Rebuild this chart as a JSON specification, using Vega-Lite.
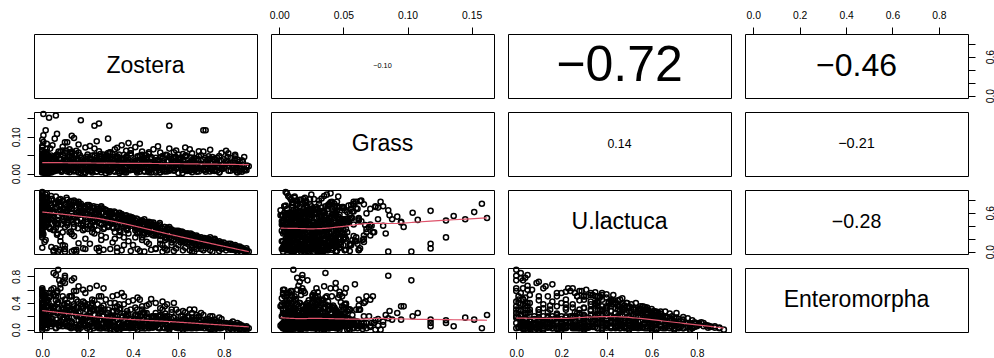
{
"$schema":"https://vega.github.io/schema/vega-lite/v6.json",
"background":"white",
"autosize":{"type":"pad"},
"padding":{"left":10,"top":9,"right":0,"bottom":0},
"config":{"view":{"stroke":"black","strokeWidth":1},"font":"Liberation Sans","axis":{"domain":false,"grid":false,"ticks":true,"tickColor":"black","tickWidth":1,"tickSize":7,"labelColor":"black","labelFont":"Liberation Sans","labelFontSize":10.3,"labelFlush":false,"labelOverlap":false}},
"datasets":{"obs":[
{"z":0,"g":0.012,"u":0.85,"e":0.06},{"z":0,"g":0.034,"u":0.62,"e":0.27},{"z":0.01,"g":0.021,"u":0.71,"e":0.18},{"z":0,"g":0.048,"u":0.44,"e":0.41},{"z":0.02,"g":0.006,"u":0.9,"e":0.02},{"z":0,"g":0.027,"u":0.33,"e":0.55},{"z":0.01,"g":0.055,"u":0.58,"e":0.3},{"z":0,"g":0.003,"u":0.4,"e":0.53},{"z":0.02,"g":0.041,"u":0.77,"e":0.1},{"z":0.005,"g":0.162,"u":0.52,"e":0.22},
{"z":0,"g":0.018,"u":0.25,"e":0.62},{"z":0.01,"g":0.009,"u":0.38,"e":0.52},{"z":0,"g":0.038,"u":0.66,"e":0.2},{"z":0.02,"g":0.015,"u":0.55,"e":0.35},{"z":0,"g":0.062,"u":0.48,"e":0.36},{"z":0.015,"g":0.024,"u":0.81,"e":0.08},{"z":0,"g":0.005,"u":0.92,"e":0},{"z":0.025,"g":0.044,"u":0.6,"e":0.25},{"z":0,"g":0.071,"u":0.42,"e":0.45},{"z":0.01,"g":0.031,"u":0.74,"e":0.15},
{"z":0,"g":0.019,"u":0.29,"e":0.58},{"z":0.02,"g":0.052,"u":0.5,"e":0.33},{"z":0,"g":0.01,"u":0.68,"e":0.24},{"z":0.005,"g":0.086,"u":0.56,"e":0.28},{"z":0,"g":0.026,"u":0.36,"e":0.5},{"z":0.03,"g":0.013,"u":0.79,"e":0.11},{"z":0,"g":0.045,"u":0.63,"e":0.22},{"z":0.01,"g":0.002,"u":0.47,"e":0.47},{"z":0,"g":0.035,"u":0.86,"e":0.04},{"z":0.02,"g":0.067,"u":0.41,"e":0.42},
{"z":0,"g":0.022,"u":0.55,"e":0.3},{"z":0.015,"g":0.008,"u":0.18,"e":0.55},{"z":0,"g":0.039,"u":0.72,"e":0.16},{"z":0.005,"g":0.104,"u":0.6,"e":0.2},{"z":0,"g":0.016,"u":0.06,"e":0.4},{"z":0.025,"g":0.05,"u":0.67,"e":0.19},{"z":0,"g":0.029,"u":0.51,"e":0.38},{"z":0.01,"g":0.058,"u":0.77,"e":0.07},{"z":0,"g":0.004,"u":0.31,"e":0.6},{"z":0.02,"g":0.033,"u":0.45,"e":0.44},
{"z":0,"g":0.075,"u":0.69,"e":0.14},{"z":0.005,"g":0.02,"u":0.83,"e":0.1},{"z":0,"g":0.047,"u":0.22,"e":0.57},{"z":0.015,"g":0.011,"u":0.64,"e":0.27},{"z":0,"g":0.092,"u":0.54,"e":0.25},{"z":0.03,"g":0.028,"u":0.37,"e":0.48},{"z":0,"g":0.014,"u":0.74,"e":0.19},{"z":0.01,"g":0.043,"u":0.58,"e":0.33},{"z":0,"g":0.007,"u":0.49,"e":0.4},{"z":0.02,"g":0.081,"u":0.7,"e":0.12},
{"z":0,"g":0.025,"u":0.88,"e":0.05},{"z":0.005,"g":0.037,"u":0.27,"e":0.5},{"z":0,"g":0.053,"u":0.61,"e":0.28},{"z":0.01,"g":0.017,"u":0.43,"e":0.52},{"z":0,"g":0.064,"u":0.79,"e":0.09},{"z":0.025,"g":0.001,"u":0.56,"e":0.35},{"z":0,"g":0.03,"u":0.35,"e":0.56},{"z":0.015,"g":0.118,"u":0.63,"e":0.15},{"z":0,"g":0.04,"u":0.9,"e":0.03},{"z":0.01,"g":0.023,"u":0.15,"e":0.3},
{"z":0.03,"g":0.152,"u":0.61,"e":0.15},{"z":0.04,"g":0.021,"u":0.72,"e":0.12},{"z":0.05,"g":0.036,"u":0.02,"e":0.85},{"z":0.06,"g":0.158,"u":0.74,"e":0.02},{"z":0.07,"g":0.011,"u":0,"e":0.9},{"z":0.04,"g":0.049,"u":0.5,"e":0.35},{"z":0.08,"g":0.027,"u":0.64,"e":0.2},{"z":0.05,"g":0.006,"u":0.33,"e":0.52},{"z":0.09,"g":0.063,"u":0.78,"e":0.05},{"z":0.06,"g":0.018,"u":0.05,"e":0.82},
{"z":0.035,"g":0.042,"u":0.57,"e":0.3},{"z":0.07,"g":0.03,"u":0.42,"e":0.41},{"z":0.1,"g":0.014,"u":0.04,"e":0.78},{"z":0.045,"g":0.077,"u":0.68,"e":0.16},{"z":0.08,"g":0.009,"u":0.81,"e":0.07},{"z":0.065,"g":0.051,"u":0.26,"e":0.55},{"z":0.095,"g":0.024,"u":0.53,"e":0.3},{"z":0.04,"g":0.003,"u":0.07,"e":0.6},{"z":0.075,"g":0.038,"u":0.7,"e":0.11},{"z":0.055,"g":0.095,"u":0.46,"e":0.35},
{"z":0.09,"g":0.016,"u":0.1,"e":0.72},{"z":0.06,"g":0.046,"u":0.85,"e":0.03},{"z":0.1,"g":0.033,"u":0.38,"e":0.45},{"z":0.045,"g":0.012,"u":0.6,"e":0.26},{"z":0.08,"g":0.059,"u":0.16,"e":0.68},{"z":0.07,"g":0.02,"u":0.76,"e":0.1},{"z":0.035,"g":0.068,"u":0.35,"e":0.5},{"z":0.085,"g":0.005,"u":0.58,"e":0.3},{"z":0.05,"g":0.044,"u":0,"e":0.62},{"z":0.095,"g":0.028,"u":0.66,"e":0.18},
{"z":0.065,"g":0.108,"u":0.49,"e":0.25},{"z":0.04,"g":0.019,"u":0.81,"e":0.1},{"z":0.08,"g":0.04,"u":0.23,"e":0.62},{"z":0.06,"g":0.008,"u":0.43,"e":0.44},{"z":0.1,"g":0.056,"u":0.72,"e":0.09},{"z":0.075,"g":0.022,"u":0.03,"e":0.74},{"z":0.05,"g":0.035,"u":0.55,"e":0.32},{"z":0.09,"g":0.073,"u":0.3,"e":0.5},{"z":0.07,"g":0.015,"u":0.62,"e":0.25},{"z":0.1,"g":0.085,"u":0,"e":0.81},
{"z":0.11,"g":0.025,"u":0.7,"e":0.12},{"z":0.13,"g":0.103,"u":0,"e":0.74},{"z":0.12,"g":0.011,"u":0.55,"e":0.28},{"z":0.15,"g":0.04,"u":0.76,"e":0.03},{"z":0.17,"g":0.145,"u":0.5,"e":0.18},{"z":0.14,"g":0.018,"u":0.02,"e":0.77},{"z":0.16,"g":0.057,"u":0.62,"e":0.14},{"z":0.11,"g":0.006,"u":0.41,"e":0.4},{"z":0.19,"g":0.033,"u":0.68,"e":0.08},{"z":0.13,"g":0.049,"u":0.27,"e":0.5},
{"z":0.18,"g":0.014,"u":0.05,"e":0.6},{"z":0.12,"g":0.066,"u":0.73,"e":0.05},{"z":0.15,"g":0.022,"u":0.47,"e":0.33},{"z":0.17,"g":0.009,"u":0.6,"e":0.2},{"z":0.1,"g":0.044,"u":0.09,"e":0.7},{"z":0.14,"g":0.031,"u":0.79,"e":0.04},{"z":0.2,"g":0.052,"u":0.35,"e":0.38},{"z":0.16,"g":0.003,"u":0.56,"e":0.25},{"z":0.11,"g":0.085,"u":0.64,"e":0.17},{"z":0.19,"g":0.02,"u":0.2,"e":0.55},
{"z":0.13,"g":0.038,"u":0.71,"e":0.1},{"z":0.18,"g":0.012,"u":0.44,"e":0.32},{"z":0.15,"g":0.062,"u":0.03,"e":0.45},{"z":0.12,"g":0.027,"u":0.52,"e":0.3},{"z":0.17,"g":0.043,"u":0.74,"e":0.03},{"z":0.2,"g":0.008,"u":0.58,"e":0.18},{"z":0.14,"g":0.097,"u":0.38,"e":0.35},{"z":0.11,"g":0.016,"u":0.8,"e":0.06},{"z":0.16,"g":0.035,"u":0.13,"e":0.65},{"z":0.19,"g":0.071,"u":0.66,"e":0.06},
{"z":0.12,"g":0.004,"u":0.3,"e":0.5},{"z":0.18,"g":0.029,"u":0.6,"e":0.16},{"z":0.13,"g":0.054,"u":0.48,"e":0.3},{"z":0.15,"g":0.017,"u":0,"e":0.58},{"z":0.17,"g":0.036,"u":0.7,"e":0.08},{"z":0.1,"g":0.023,"u":0.62,"e":0.22},{"z":0.2,"g":0.046,"u":0.5,"e":0.2},{"z":0.14,"g":0.01,"u":0.24,"e":0.58},{"z":0.16,"g":0.079,"u":0.77,"e":0},{"z":0.11,"g":0.039,"u":0.45,"e":0.35},
{"z":0.19,"g":0.002,"u":0.04,"e":0.36},{"z":0.13,"g":0.06,"u":0.67,"e":0.12},{"z":0.18,"g":0.026,"u":0.33,"e":0.42},{"z":0.15,"g":0.015,"u":0.56,"e":0.22},{"z":0.12,"g":0.045,"u":0.77,"e":0.04},
{"z":0.21,"g":0.021,"u":0.62,"e":0.12},{"z":0.23,"g":0.13,"u":0.48,"e":0.14},{"z":0.25,"g":0.136,"u":0.55,"e":0.05},{"z":0.22,"g":0.008,"u":0.3,"e":0.45},{"z":0.27,"g":0.041,"u":0.66,"e":0.03},{"z":0.24,"g":0.015,"u":0.05,"e":0.66},{"z":0.29,"g":0.056,"u":0.52,"e":0.12},{"z":0.21,"g":0.032,"u":0.4,"e":0.33},{"z":0.26,"g":0.004,"u":0.7,"e":0.02},{"z":0.28,"g":0.026,"u":0.22,"e":0.45},
{"z":0.23,"g":0.068,"u":0.59,"e":0.1},{"z":0.25,"g":0.012,"u":0.01,"e":0.5},{"z":0.3,"g":0.037,"u":0.45,"e":0.2},{"z":0.22,"g":0.049,"u":0.68,"e":0.05},{"z":0.27,"g":0.018,"u":0.35,"e":0.36},{"z":0.24,"g":0.088,"u":0.5,"e":0.15},{"z":0.29,"g":0.007,"u":0.6,"e":0.08},{"z":0.21,"g":0.029,"u":0.12,"e":0.62},{"z":0.26,"g":0.045,"u":0.42,"e":0.28},{"z":0.28,"g":0.013,"u":0.64,"e":0.05},
{"z":0.23,"g":0.034,"u":0.28,"e":0.44},{"z":0.25,"g":0.061,"u":0.66,"e":0.02},{"z":0.3,"g":0.02,"u":0.55,"e":0.12},{"z":0.22,"g":0.003,"u":0.47,"e":0.3},{"z":0.27,"g":0.052,"u":0.03,"e":0.62},{"z":0.24,"g":0.024,"u":0.6,"e":0.13},{"z":0.29,"g":0.039,"u":0.38,"e":0.3},{"z":0.21,"g":0.075,"u":0.7,"e":0},{"z":0.26,"g":0.01,"u":0.18,"e":0.5},{"z":0.28,"g":0.047,"u":0.57,"e":0.1},
{"z":0.23,"g":0.016,"u":0.52,"e":0.22},{"z":0.25,"g":0.03,"u":0.06,"e":0.3},{"z":0.3,"g":0.058,"u":0.62,"e":0.02},{"z":0.22,"g":0.022,"u":0.36,"e":0.4},{"z":0.27,"g":0.009,"u":0.5,"e":0.2},{"z":0.24,"g":0.043,"u":0.69,"e":0.04},{"z":0.29,"g":0.095,"u":0.45,"e":0.15},{"z":0.21,"g":0.014,"u":0.57,"e":0.2},{"z":0.26,"g":0.035,"u":0.25,"e":0.33},{"z":0.28,"g":0.001,"u":0.64,"e":0.06},
{"z":0.23,"g":0.05,"u":0.4,"e":0.3},{"z":0.25,"g":0.027,"u":0.58,"e":0.15},
{"z":0.31,"g":0.018,"u":0.58,"e":0.05},{"z":0.33,"g":0.044,"u":0.45,"e":0.15},{"z":0.35,"g":0.006,"u":0.02,"e":0.55},{"z":0.37,"g":0.062,"u":0.5,"e":0.05},{"z":0.32,"g":0.027,"u":0.3,"e":0.33},{"z":0.39,"g":0.013,"u":0.48,"e":0.1},{"z":0.34,"g":0.035,"u":0.6,"e":0},{"z":0.36,"g":0.051,"u":0.22,"e":0.38},{"z":0.3,"g":0.009,"u":0.04,"e":0.4},{"z":0.38,"g":0.029,"u":0.52,"e":0.05},
{"z":0.33,"g":0.07,"u":0.38,"e":0.2},{"z":0.35,"g":0.015,"u":0.55,"e":0.06},{"z":0.31,"g":0.041,"u":0.14,"e":0.5},{"z":0.37,"g":0.003,"u":0.4,"e":0.2},{"z":0.39,"g":0.055,"u":0.01,"e":0.3},{"z":0.32,"g":0.022,"u":0.6,"e":0.04},{"z":0.34,"g":0.038,"u":0.33,"e":0.3},{"z":0.36,"g":0.011,"u":0.52,"e":0.08},{"z":0.38,"g":0.083,"u":0.28,"e":0.22},{"z":0.3,"g":0.032,"u":0.5,"e":0.14},
{"z":0.35,"g":0.019,"u":0.42,"e":0.2},{"z":0.33,"g":0.047,"u":0.06,"e":0.52},{"z":0.37,"g":0.008,"u":0.56,"e":0.03},{"z":0.31,"g":0.026,"u":0.38,"e":0.28},{"z":0.39,"g":0.064,"u":0.47,"e":0.05},{"z":0.34,"g":0.014,"u":0.25,"e":0.38},{"z":0.36,"g":0.04,"u":0.53,"e":0.04},{"z":0.32,"g":0.005,"u":0.45,"e":0.2},{"z":0.38,"g":0.031,"u":0.16,"e":0.42},{"z":0.35,"g":0.077,"u":0.5,"e":0.06},
{"z":0.3,"g":0.017,"u":0.62,"e":0},{"z":0.37,"g":0.046,"u":0.35,"e":0.22},{"z":0.33,"g":0.023,"u":0,"e":0.35},{"z":0.39,"g":0.01,"u":0.52,"e":0.07},{"z":0.31,"g":0.053,"u":0.44,"e":0.18},{"z":0.36,"g":0.028,"u":0.1,"e":0.5},{"z":0.34,"g":0.002,"u":0.56,"e":0.08},{"z":0.38,"g":0.037,"u":0.42,"e":0.12},{"z":0.32,"g":0.066,"u":0.2,"e":0.4},{"z":0.35,"g":0.025,"u":0.58,"e":0.02},
{"z":0.41,"g":0.02,"u":0.48,"e":0.04},{"z":0.43,"g":0.049,"u":0.3,"e":0.2},{"z":0.45,"g":0.007,"u":0.5,"e":0.02},{"z":0.42,"g":0.036,"u":0.04,"e":0.48},{"z":0.47,"g":0.014,"u":0.38,"e":0.12},{"z":0.44,"g":0.06,"u":0.22,"e":0.3},{"z":0.49,"g":0.025,"u":0.42,"e":0.05},{"z":0.4,"g":0.011,"u":0.52,"e":0.03},{"z":0.46,"g":0.042,"u":0.15,"e":0.36},{"z":0.48,"g":0.003,"u":0.45,"e":0.05},
{"z":0.43,"g":0.031,"u":0.01,"e":0.45},{"z":0.41,"g":0.072,"u":0.4,"e":0.1},{"z":0.45,"g":0.018,"u":0.28,"e":0.25},{"z":0.47,"g":0.054,"u":0.46,"e":0.02},{"z":0.42,"g":0.009,"u":0.35,"e":0.2},{"z":0.5,"g":0.028,"u":0.05,"e":0.4},{"z":0.44,"g":0.039,"u":0.48,"e":0.05},{"z":0.46,"g":0.016,"u":0.32,"e":0.18},{"z":0.49,"g":0.066,"u":0.25,"e":0.2},{"z":0.4,"g":0.023,"u":0.1,"e":0.44},
{"z":0.48,"g":0.045,"u":0.4,"e":0.08},{"z":0.43,"g":0.005,"u":0.45,"e":0.1},{"z":0.45,"g":0.034,"u":0,"e":0.25},{"z":0.41,"g":0.012,"u":0.33,"e":0.22},{"z":0.47,"g":0.058,"u":0.42,"e":0.03},{"z":0.44,"g":0.021,"u":0.18,"e":0.35},{"z":0.5,"g":0.008,"u":0.38,"e":0.1},{"z":0.42,"g":0.047,"u":0.5,"e":0},{"z":0.46,"g":0.026,"u":0.27,"e":0.25},{"z":0.48,"g":0.013,"u":0.03,"e":0.46},
{"z":0.43,"g":0.081,"u":0.4,"e":0.07},{"z":0.41,"g":0.03,"u":0.22,"e":0.33},{"z":0.49,"g":0.017,"u":0.45,"e":0.04},{"z":0.45,"g":0.038,"u":0.35,"e":0.15},{"z":0.47,"g":0.004,"u":0.12,"e":0.38},{"z":0.44,"g":0.051,"u":0.46,"e":0.05},{"z":0.5,"g":0.024,"u":0.3,"e":0.16},{"z":0.42,"g":0.015,"u":0.42,"e":0.12},
{"z":0.51,"g":0.019,"u":0.4,"e":0.03},{"z":0.56,"g":0.13,"u":0.22,"e":0.1},{"z":0.53,"g":0.041,"u":0.3,"e":0.12},{"z":0.55,"g":0.006,"u":0.03,"e":0.38},{"z":0.58,"g":0.032,"u":0.32,"e":0.05},{"z":0.52,"g":0.057,"u":0.18,"e":0.22},{"z":0.54,"g":0.012,"u":0.38,"e":0.02},{"z":0.57,"g":0.027,"u":0.1,"e":0.3},{"z":0.59,"g":0.044,"u":0.28,"e":0.08},{"z":0.5,"g":0.003,"u":0.04,"e":0.25},
{"z":0.56,"g":0.068,"u":0.3,"e":0.02},{"z":0.53,"g":0.018,"u":0.25,"e":0.18},{"z":0.58,"g":0.009,"u":0.01,"e":0.4},{"z":0.51,"g":0.035,"u":0.35,"e":0.08},{"z":0.55,"g":0.05,"u":0.2,"e":0.2},{"z":0.57,"g":0.015,"u":0.34,"e":0.04},{"z":0.52,"g":0.026,"u":0.12,"e":0.32},{"z":0.6,"g":0.039,"u":0.3,"e":0.02},{"z":0.54,"g":0.007,"u":0.22,"e":0.2},{"z":0.59,"g":0.063,"u":0.05,"e":0.3},
{"z":0.5,"g":0.021,"u":0.4,"e":0.05},{"z":0.56,"g":0.046,"u":0.26,"e":0.12},{"z":0.53,"g":0.011,"u":0,"e":0.42},{"z":0.58,"g":0.029,"u":0.18,"e":0.18},{"z":0.51,"g":0.074,"u":0.3,"e":0.1},{"z":0.55,"g":0.017,"u":0.36,"e":0.02},{"z":0.57,"g":0.036,"u":0.14,"e":0.26},{"z":0.52,"g":0.004,"u":0.32,"e":0.12},{"z":0.6,"g":0.052,"u":0.2,"e":0.12},{"z":0.54,"g":0.023,"u":0.05,"e":0.35},
{"z":0.59,"g":0.013,"u":0.3,"e":0.06},{"z":0.5,"g":0.043,"u":0.25,"e":0.2},{"z":0.56,"g":0.008,"u":0.38,"e":0},{"z":0.53,"g":0.031,"u":0.1,"e":0.3},{"z":0.58,"g":0.058,"u":0.24,"e":0.1},{"z":0.55,"g":0.02,"u":0.02,"e":0.15},
{"z":0.61,"g":0.022,"u":0.3,"e":0.03},{"z":0.63,"g":0.048,"u":0.15,"e":0.16},{"z":0.65,"g":0.008,"u":0.02,"e":0.3},{"z":0.67,"g":0.035,"u":0.24,"e":0.05},{"z":0.62,"g":0.014,"u":0.2,"e":0.12},{"z":0.69,"g":0.061,"u":0.12,"e":0.12},{"z":0.64,"g":0.027,"u":0.28,"e":0.02},{"z":0.66,"g":0.004,"u":0.05,"e":0.25},{"z":0.68,"g":0.04,"u":0.22,"e":0.06},{"z":0.6,"g":0.018,"u":0.1,"e":0.26},
{"z":0.63,"g":0.071,"u":0.25,"e":0.04},{"z":0.65,"g":0.031,"u":0.18,"e":0.12},{"z":0.67,"g":0.01,"u":0,"e":0.3},{"z":0.62,"g":0.053,"u":0.3,"e":0},{"z":0.64,"g":0.016,"u":0.12,"e":0.2},{"z":0.66,"g":0.037,"u":0.26,"e":0.04},{"z":0.69,"g":0.006,"u":0.08,"e":0.2},{"z":0.61,"g":0.044,"u":0.2,"e":0.1},{"z":0.68,"g":0.024,"u":0.04,"e":0.22},{"z":0.63,"g":0.012,"u":0.28,"e":0.05},
{"z":0.65,"g":0.066,"u":0.15,"e":0.1},{"z":0.67,"g":0.029,"u":0.2,"e":0.06},{"z":0.6,"g":0.002,"u":0.32,"e":0.04},{"z":0.62,"g":0.038,"u":0.02,"e":0.28},{"z":0.64,"g":0.02,"u":0.22,"e":0.1},{"z":0.66,"g":0.055,"u":0.1,"e":0.15},{"z":0.68,"g":0.013,"u":0.25,"e":0.02},{"z":0.61,"g":0.033,"u":0.14,"e":0.2},{"z":0.69,"g":0.047,"u":0.2,"e":0.04},{"z":0.63,"g":0.009,"u":0.06,"e":0.26},
{"z":0.65,"g":0.026,"u":0.26,"e":0.05},{"z":0.67,"g":0.042,"u":0.12,"e":0.14},{"z":0.62,"g":0.015,"u":0.25,"e":0.08},{"z":0.66,"g":0.03,"u":0,"e":0.18},
{"z":0.71,"g":0.118,"u":0.12,"e":0.05},{"z":0.72,"g":0.118,"u":0.05,"e":0.1},{"z":0.73,"g":0.025,"u":0.2,"e":0.03},{"z":0.75,"g":0.045,"u":0.1,"e":0.12},{"z":0.77,"g":0.008,"u":0.15,"e":0.04},{"z":0.74,"g":0.031,"u":0.02,"e":0.2},{"z":0.79,"g":0.056,"u":0.1,"e":0.08},{"z":0.7,"g":0.014,"u":0.22,"e":0.03},{"z":0.76,"g":0.037,"u":0.06,"e":0.15},{"z":0.78,"g":0.003,"u":0.16,"e":0.02},
{"z":0.72,"g":0.02,"u":0.12,"e":0.12},{"z":0.74,"g":0.065,"u":0.18,"e":0.01},{"z":0.71,"g":0.011,"u":0.02,"e":0.22},{"z":0.77,"g":0.043,"u":0.08,"e":0.1},{"z":0.73,"g":0.028,"u":0.2,"e":0.02},{"z":0.79,"g":0.016,"u":0.04,"e":0.16},{"z":0.75,"g":0.009,"u":0.15,"e":0.08},{"z":0.7,"g":0.05,"u":0.1,"e":0.15},{"z":0.76,"g":0.022,"u":0.18,"e":0.02},{"z":0.78,"g":0.034,"u":0.01,"e":0.18},
{"z":0.72,"g":0.005,"u":0.2,"e":0.06},{"z":0.74,"g":0.041,"u":0.12,"e":0.1},{"z":0.77,"g":0.018,"u":0.06,"e":0.12},{"z":0.71,"g":0.06,"u":0.16,"e":0.06},{"z":0.75,"g":0.027,"u":0,"e":0.2},{"z":0.79,"g":0.012,"u":0.14,"e":0.04},{"z":0.73,"g":0.038,"u":0.08,"e":0.16},{"z":0.76,"g":0.007,"u":0.2,"e":0},{"z":0.78,"g":0.048,"u":0.1,"e":0.05},{"z":0.7,"g":0.024,"u":0.04,"e":0.25},
{"z":0.74,"g":0.015,"u":0.22,"e":0.02},{"z":0.77,"g":0.032,"u":0.12,"e":0.06},
{"z":0.81,"g":0.028,"u":0.1,"e":0.04},{"z":0.83,"g":0.042,"u":0.05,"e":0.08},{"z":0.85,"g":0.01,"u":0.1,"e":0.02},{"z":0.87,"g":0.033,"u":0.02,"e":0.08},{"z":0.82,"g":0.055,"u":0.12,"e":0},{"z":0.84,"g":0.017,"u":0.03,"e":0.12},{"z":0.86,"g":0.026,"u":0.08,"e":0.03},{"z":0.88,"g":0.005,"u":0.04,"e":0.06},{"z":0.8,"g":0.039,"u":0.08,"e":0.08},{"z":0.9,"g":0.018,"u":0.02,"e":0.05},
{"z":0.83,"g":0.008,"u":0.12,"e":0.02},{"z":0.85,"g":0.047,"u":0.06,"e":0.04},{"z":0.87,"g":0.021,"u":0.05,"e":0.05},{"z":0.81,"g":0.062,"u":0.02,"e":0.1},{"z":0.89,"g":0.012,"u":0.03,"e":0.02},{"z":0.84,"g":0.03,"u":0.1,"e":0},{"z":0.86,"g":0.003,"u":0,"e":0.1},{"z":0.82,"g":0.024,"u":0.06,"e":0.07},{"z":0.88,"g":0.036,"u":0.06,"e":0.02},{"z":0.91,"g":0.02,"u":0,"e":0.02},
{"z":0.8,"g":0.014,"u":0.14,"e":0.04},{"z":0.85,"g":0.051,"u":0.02,"e":0.06},{"z":0.87,"g":0.007,"u":0.08,"e":0},{"z":0.83,"g":0.028,"u":0.03,"e":0.1},{"z":0.89,"g":0.045,"u":0.01,"e":0.04},{"z":0.9,"g":0.009,"u":0.05,"e":0},{"z":0.84,"g":0.023,"u":0.07,"e":0.05},{"z":0.86,"g":0.038,"u":0.04,"e":0.07},
{"z":0.003,"g":0.014,"u":0.78,"e":0.14},{"z":0.012,"g":0.029,"u":0.69,"e":0.2},{"z":0,"g":0.041,"u":0.57,"e":0.34},{"z":0.022,"g":0.008,"u":0.84,"e":0.07},{"z":0.035,"g":0.022,"u":0.63,"e":0.25},{"z":0.047,"g":0.036,"u":0.52,"e":0.33},{"z":0.058,"g":0.011,"u":0.75,"e":0.1},{"z":0.066,"g":0.052,"u":0.44,"e":0.39},{"z":0.074,"g":0.017,"u":0.8,"e":0.05},{"z":0.088,"g":0.031,"u":0.6,"e":0.22},
{"z":0,"g":0.005,"u":0.71,"e":0.25},{"z":0.008,"g":0.046,"u":0.4,"e":0.48},{"z":0.017,"g":0.019,"u":0.66,"e":0.27},{"z":0.028,"g":0.034,"u":0.49,"e":0.4},{"z":0.039,"g":0.007,"u":0.86,"e":0.05},{"z":0.051,"g":0.026,"u":0.34,"e":0.52},{"z":0.062,"g":0.049,"u":0.69,"e":0.15},{"z":0.07,"g":0.013,"u":0.55,"e":0.31},{"z":0.083,"g":0.038,"u":0.72,"e":0.12},{"z":0.097,"g":0.021,"u":0.47,"e":0.38},
{"z":0,"g":0.033,"u":0.82,"e":0.11},{"z":0.006,"g":0.016,"u":0.53,"e":0.4},{"z":0.019,"g":0.058,"u":0.74,"e":0.14},{"z":0.031,"g":0.003,"u":0.38,"e":0.55},{"z":0.043,"g":0.027,"u":0.81,"e":0.08},{"z":0.054,"g":0.044,"u":0.59,"e":0.28},{"z":0.067,"g":0.009,"u":0.28,"e":0.58},{"z":0.079,"g":0.024,"u":0.65,"e":0.21},{"z":0.091,"g":0.05,"u":0.5,"e":0.33},{"z":0,"g":0.02,"u":0.6,"e":0.31},
{"z":0.014,"g":0.037,"u":0.88,"e":0.03},{"z":0.025,"g":0.012,"u":0.46,"e":0.45},{"z":0.037,"g":0.045,"u":0.7,"e":0.17},{"z":0.049,"g":0.018,"u":0.62,"e":0.26},{"z":0.06,"g":0.03,"u":0.37,"e":0.5},{"z":0.072,"g":0.06,"u":0.77,"e":0.06},{"z":0.085,"g":0.006,"u":0.42,"e":0.43},{"z":0.094,"g":0.028,"u":0.58,"e":0.26},{"z":0.004,"g":0.051,"u":0.64,"e":0.24},{"z":0.01,"g":0.01,"u":0.76,"e":0.17},
{"z":0.102,"g":0.018,"u":0.74,"e":0.09},{"z":0.108,"g":0.035,"u":0.61,"e":0.21},{"z":0.115,"g":0.009,"u":0.49,"e":0.33},{"z":0.121,"g":0.047,"u":0.68,"e":0.13},{"z":0.127,"g":0.021,"u":0.78,"e":0.02},{"z":0.134,"g":0.032,"u":0.55,"e":0.25},{"z":0.139,"g":0.006,"u":0.43,"e":0.38},{"z":0.145,"g":0.054,"u":0.71,"e":0.07},{"z":0.151,"g":0.015,"u":0.6,"e":0.2},{"z":0.157,"g":0.038,"u":0.36,"e":0.42},
{"z":0.162,"g":0.024,"u":0.73,"e":0.05},{"z":0.168,"g":0.011,"u":0.51,"e":0.27},{"z":0.173,"g":0.043,"u":0.64,"e":0.12},{"z":0.179,"g":0.027,"u":0.4,"e":0.35},{"z":0.184,"g":0.004,"u":0.7,"e":0.06},{"z":0.19,"g":0.036,"u":0.57,"e":0.18},{"z":0.195,"g":0.019,"u":0.46,"e":0.3},{"z":0.105,"g":0.062,"u":0.52,"e":0.3},{"z":0.118,"g":0.013,"u":0.65,"e":0.18},{"z":0.126,"g":0.028,"u":0.31,"e":0.5},
{"z":0.137,"g":0.041,"u":0.76,"e":0.04},{"z":0.148,"g":0.007,"u":0.58,"e":0.24},{"z":0.155,"g":0.023,"u":0.47,"e":0.33},{"z":0.166,"g":0.05,"u":0.69,"e":0.08},{"z":0.176,"g":0.016,"u":0.62,"e":0.15},{"z":0.187,"g":0.033,"u":0.35,"e":0.4},{"z":0.198,"g":0.01,"u":0.72,"e":0.02},{"z":0.112,"g":0.026,"u":0.44,"e":0.4},{"z":0.131,"g":0.056,"u":0.66,"e":0.1},{"z":0.143,"g":0.02,"u":0.52,"e":0.3},
{"z":0.159,"g":0.039,"u":0.74,"e":0.02},{"z":0.171,"g":0.002,"u":0.42,"e":0.38},{"z":0.182,"g":0.03,"u":0.66,"e":0.1},{"z":0.193,"g":0.045,"u":0.53,"e":0.2},{"z":0.107,"g":0.012,"u":0.83,"e":0.05},
{"z":0.203,"g":0.025,"u":0.66,"e":0.07},{"z":0.209,"g":0.041,"u":0.53,"e":0.19},{"z":0.214,"g":0.008,"u":0.4,"e":0.32},{"z":0.22,"g":0.031,"u":0.62,"e":0.1},{"z":0.226,"g":0.016,"u":0.7,"e":0.02},{"z":0.232,"g":0.048,"u":0.47,"e":0.22},{"z":0.238,"g":0.005,"u":0.56,"e":0.15},{"z":0.244,"g":0.036,"u":0.33,"e":0.38},{"z":0.25,"g":0.021,"u":0.64,"e":0.06},{"z":0.256,"g":0.053,"u":0.51,"e":0.16},
{"z":0.262,"g":0.012,"u":0.42,"e":0.28},{"z":0.268,"g":0.028,"u":0.6,"e":0.08},{"z":0.274,"g":0.044,"u":0.37,"e":0.3},{"z":0.28,"g":0.009,"u":0.55,"e":0.12},{"z":0.286,"g":0.034,"u":0.63,"e":0.02},{"z":0.292,"g":0.019,"u":0.46,"e":0.2},{"z":0.298,"g":0.057,"u":0.52,"e":0.1},{"z":0.206,"g":0.014,"u":0.72,"e":0.04},{"z":0.217,"g":0.038,"u":0.36,"e":0.36},{"z":0.229,"g":0.023,"u":0.58,"e":0.14},
{"z":0.241,"g":0.006,"u":0.66,"e":0.06},{"z":0.253,"g":0.046,"u":0.44,"e":0.25},{"z":0.265,"g":0.017,"u":0.5,"e":0.2},{"z":0.277,"g":0.029,"u":0.65,"e":0.02},{"z":0.289,"g":0.04,"u":0.4,"e":0.25},{"z":0.211,"g":0.01,"u":0.5,"e":0.28},{"z":0.235,"g":0.033,"u":0.61,"e":0.1},{"z":0.259,"g":0.022,"u":0.68,"e":0.02},{"z":0.283,"g":0.05,"u":0.48,"e":0.15},{"z":0.295,"g":0.004,"u":0.6,"e":0.05},
{"z":0.223,"g":0.027,"u":0.45,"e":0.3},{"z":0.247,"g":0.015,"u":0.54,"e":0.2},
{"z":0.302,"g":0.022,"u":0.57,"e":0.08},{"z":0.308,"g":0.039,"u":0.45,"e":0.18},{"z":0.314,"g":0.007,"u":0.36,"e":0.28},{"z":0.32,"g":0.046,"u":0.54,"e":0.06},{"z":0.326,"g":0.015,"u":0.6,"e":0.02},{"z":0.332,"g":0.03,"u":0.42,"e":0.2},{"z":0.338,"g":0.052,"u":0.5,"e":0.1},{"z":0.344,"g":0.011,"u":0.3,"e":0.32},{"z":0.35,"g":0.025,"u":0.56,"e":0.04},{"z":0.356,"g":0.037,"u":0.46,"e":0.14},
{"z":0.362,"g":0.004,"u":0.38,"e":0.24},{"z":0.368,"g":0.043,"u":0.52,"e":0.05},{"z":0.374,"g":0.018,"u":0.33,"e":0.28},{"z":0.38,"g":0.032,"u":0.48,"e":0.1},{"z":0.386,"g":0.009,"u":0.54,"e":0.02},{"z":0.392,"g":0.049,"u":0.4,"e":0.16},{"z":0.398,"g":0.02,"u":0.45,"e":0.1},{"z":0.305,"g":0.012,"u":0.47,"e":0.2},{"z":0.317,"g":0.035,"u":0.62,"e":0},{"z":0.329,"g":0.027,"u":0.38,"e":0.28},
{"z":0.341,"g":0.006,"u":0.53,"e":0.1},{"z":0.353,"g":0.041,"u":0.43,"e":0.18},{"z":0.365,"g":0.016,"u":0.55,"e":0.03},{"z":0.377,"g":0.028,"u":0.36,"e":0.24},{"z":0.389,"g":0.055,"u":0.5,"e":0.05},{"z":0.311,"g":0.019,"u":0.52,"e":0.12},{"z":0.335,"g":0.044,"u":0.57,"e":0.02},{"z":0.359,"g":0.01,"u":0.48,"e":0.12},{"z":0.383,"g":0.024,"u":0.42,"e":0.15},{"z":0.395,"g":0.033,"u":0.53,"e":0.03},
{"z":0.403,"g":0.017,"u":0.47,"e":0.07},{"z":0.409,"g":0.034,"u":0.38,"e":0.16},{"z":0.415,"g":0.008,"u":0.51,"e":0.03},{"z":0.421,"g":0.045,"u":0.3,"e":0.22},{"z":0.427,"g":0.021,"u":0.44,"e":0.1},{"z":0.433,"g":0.013,"u":0.35,"e":0.2},{"z":0.439,"g":0.038,"u":0.48,"e":0.02},{"z":0.445,"g":0.026,"u":0.26,"e":0.26},{"z":0.451,"g":0.005,"u":0.42,"e":0.1},{"z":0.457,"g":0.05,"u":0.36,"e":0.12},
{"z":0.463,"g":0.018,"u":0.44,"e":0.05},{"z":0.469,"g":0.03,"u":0.3,"e":0.18},{"z":0.475,"g":0.01,"u":0.4,"e":0.08},{"z":0.481,"g":0.042,"u":0.34,"e":0.12},{"z":0.487,"g":0.023,"u":0.42,"e":0.03},{"z":0.493,"g":0.014,"u":0.28,"e":0.18},{"z":0.499,"g":0.036,"u":0.38,"e":0.06},{"z":0.406,"g":0.028,"u":0.42,"e":0.12},{"z":0.418,"g":0.003,"u":0.28,"e":0.3},{"z":0.43,"g":0.047,"u":0.45,"e":0.06},
{"z":0.442,"g":0.016,"u":0.38,"e":0.15},{"z":0.454,"g":0.032,"u":0.46,"e":0.02},{"z":0.466,"g":0.007,"u":0.33,"e":0.16},{"z":0.478,"g":0.039,"u":0.44,"e":0.04},{"z":0.49,"g":0.02,"u":0.36,"e":0.1},{"z":0.412,"g":0.011,"u":0.36,"e":0.22},{"z":0.448,"g":0.043,"u":0.4,"e":0.1},{"z":0.484,"g":0.025,"u":0.26,"e":0.2},
{"z":0.503,"g":0.02,"u":0.4,"e":0.07},{"z":0.509,"g":0.037,"u":0.3,"e":0.15},{"z":0.515,"g":0.009,"u":0.42,"e":0.02},{"z":0.521,"g":0.044,"u":0.24,"e":0.2},{"z":0.527,"g":0.016,"u":0.36,"e":0.08},{"z":0.533,"g":0.028,"u":0.28,"e":0.14},{"z":0.539,"g":0.006,"u":0.38,"e":0.03},{"z":0.545,"g":0.051,"u":0.22,"e":0.18},{"z":0.551,"g":0.019,"u":0.34,"e":0.06},{"z":0.557,"g":0.033,"u":0.26,"e":0.12},
{"z":0.563,"g":0.012,"u":0.35,"e":0.04},{"z":0.569,"g":0.04,"u":0.2,"e":0.16},{"z":0.575,"g":0.023,"u":0.32,"e":0.06},{"z":0.581,"g":0.008,"u":0.25,"e":0.12},{"z":0.587,"g":0.046,"u":0.3,"e":0.04},{"z":0.593,"g":0.015,"u":0.22,"e":0.14},{"z":0.599,"g":0.03,"u":0.3,"e":0.04},{"z":0.506,"g":0.026,"u":0.34,"e":0.12},{"z":0.518,"g":0.003,"u":0.44,"e":0.02},{"z":0.53,"g":0.048,"u":0.32,"e":0.08},
{"z":0.542,"g":0.021,"u":0.18,"e":0.24},{"z":0.554,"g":0.035,"u":0.36,"e":0.02},{"z":0.566,"g":0.01,"u":0.28,"e":0.1},{"z":0.578,"g":0.042,"u":0.18,"e":0.18},{"z":0.59,"g":0.024,"u":0.32,"e":0.03},{"z":0.512,"g":0.014,"u":0.26,"e":0.2},
{"z":0.603,"g":0.024,"u":0.3,"e":0.05},{"z":0.609,"g":0.041,"u":0.22,"e":0.12},{"z":0.615,"g":0.01,"u":0.31,"e":0.02},{"z":0.621,"g":0.035,"u":0.17,"e":0.16},{"z":0.627,"g":0.018,"u":0.27,"e":0.06},{"z":0.633,"g":0.05,"u":0.2,"e":0.1},{"z":0.639,"g":0.007,"u":0.28,"e":0.03},{"z":0.645,"g":0.029,"u":0.14,"e":0.18},{"z":0.651,"g":0.016,"u":0.25,"e":0.06},{"z":0.657,"g":0.044,"u":0.18,"e":0.1},
{"z":0.663,"g":0.012,"u":0.26,"e":0.02},{"z":0.669,"g":0.032,"u":0.15,"e":0.14},{"z":0.675,"g":0.02,"u":0.22,"e":0.06},{"z":0.681,"g":0.005,"u":0.16,"e":0.1},{"z":0.687,"g":0.038,"u":0.22,"e":0.03},{"z":0.693,"g":0.014,"u":0.12,"e":0.14},{"z":0.699,"g":0.027,"u":0.2,"e":0.04},{"z":0.606,"g":0.031,"u":0.24,"e":0.12},{"z":0.618,"g":0.002,"u":0.16,"e":0.2},{"z":0.63,"g":0.046,"u":0.27,"e":0.02},
{"z":0.642,"g":0.022,"u":0.2,"e":0.12},{"z":0.654,"g":0.009,"u":0.28,"e":0.02},{"z":0.666,"g":0.036,"u":0.18,"e":0.1},{"z":0.678,"g":0.017,"u":0.1,"e":0.18},
{"z":0.703,"g":0.021,"u":0.2,"e":0.05},{"z":0.709,"g":0.038,"u":0.14,"e":0.1},{"z":0.715,"g":0.009,"u":0.21,"e":0.02},{"z":0.721,"g":0.033,"u":0.1,"e":0.14},{"z":0.727,"g":0.015,"u":0.18,"e":0.06},{"z":0.733,"g":0.047,"u":0.12,"e":0.08},{"z":0.739,"g":0.006,"u":0.19,"e":0.02},{"z":0.745,"g":0.027,"u":0.08,"e":0.14},{"z":0.751,"g":0.017,"u":0.15,"e":0.05},{"z":0.757,"g":0.04,"u":0.1,"e":0.08},
{"z":0.763,"g":0.011,"u":0.16,"e":0.02},{"z":0.769,"g":0.03,"u":0.06,"e":0.12},{"z":0.775,"g":0.019,"u":0.12,"e":0.05},{"z":0.781,"g":0.004,"u":0.08,"e":0.08},{"z":0.787,"g":0.036,"u":0.12,"e":0.02},{"z":0.793,"g":0.013,"u":0.05,"e":0.1},{"z":0.799,"g":0.025,"u":0.1,"e":0.04},{"z":0.718,"g":0.043,"u":0.16,"e":0.08},{"z":0.742,"g":0.012,"u":0.12,"e":0.1},{"z":0.766,"g":0.028,"u":0.14,"e":0.03},
{"z":0.803,"g":0.019,"u":0.1,"e":0.05},{"z":0.812,"g":0.034,"u":0.06,"e":0.08},{"z":0.821,"g":0.008,"u":0.09,"e":0.03},{"z":0.83,"g":0.03,"u":0.04,"e":0.07},{"z":0.839,"g":0.014,"u":0.07,"e":0.04},{"z":0.848,"g":0.041,"u":0.03,"e":0.06},{"z":0.857,"g":0.005,"u":0.06,"e":0.02},{"z":0.866,"g":0.025,"u":0.03,"e":0.05},{"z":0.875,"g":0.012,"u":0.04,"e":0.02},{"z":0.884,"g":0.032,"u":0.02,"e":0.04},
{"z":0.893,"g":0.009,"u":0.03,"e":0.01},{"z":0.902,"g":0.022,"u":0.01,"e":0.03},{"z":0.817,"g":0.045,"u":0.08,"e":0.06},{"z":0.844,"g":0.02,"u":0.05,"e":0.08},{"z":0.871,"g":0.016,"u":0.06,"e":0.01}
]},
"columns":4,
"spacing":14,
"bounds":"flush",
"concat":[
{"width":223,"height":64,"layer":[
 {"data":{"name":"obs"},"mark":{"type":"point","opacity":0},"encoding":{"x":{"field":"z","type":"quantitative","axis":null}}},
 {"data":{"values":[{"label":"Zostera"}]},"mark":{"type":"text","fontSize":23,"font":"Liberation Sans","color":"black"},"encoding":{"text":{"field":"label"}}}
]},
{"width":223,"height":64,"layer":[
 {"data":{"name":"obs"},"mark":{"type":"point","opacity":0},"encoding":{"x":{"field":"g","type":"quantitative","scale":{"domain":[-0.00644,0.16744],"nice":false,"zero":false},"axis":{"orient":"top","values":[0,0.05,0.1,0.15],"format":".2f","labelPadding":9,"labelBaseline":"alphabetic","labelAlign":"center","title":null}}}},
 {"data":{"values":[{"label":"−0.10"}]},"mark":{"type":"text","fontSize":7.3,"font":"Liberation Sans","color":"black"},"encoding":{"text":{"field":"label"}}}
]},
{"width":223,"height":64,"layer":[
 {"data":{"name":"obs"},"mark":{"type":"point","opacity":0},"encoding":{"x":{"field":"u","type":"quantitative","axis":null}}},
 {"data":{"values":[{"label":"−0.72"}]},"mark":{"type":"text","fontSize":50,"font":"Liberation Sans","color":"black"},"encoding":{"text":{"field":"label"}}}
]},
{"width":223,"height":64,"layer":[
 {"data":{"name":"obs"},"mark":{"type":"point","opacity":0},"encoding":{"x":{"field":"e","type":"quantitative","scale":{"domain":[-0.0356,0.9256],"nice":false,"zero":false},"axis":{"orient":"top","values":[0,0.2,0.4,0.6,0.8],"format":".1f","labelPadding":9,"labelBaseline":"alphabetic","labelAlign":"center","title":null}},"y":{"field":"z","type":"quantitative","scale":{"domain":[-0.0364,0.9464],"nice":false,"zero":false},"axis":{"orient":"right","values":[0,0.2,0.4,0.6,0.8],"format":".1f","labelAngle":270,"labelAlign":"center","labelBaseline":"alphabetic","labelPadding":18,"labelExpr":"indexof(['0.0','0.6'], datum.label) >= 0 ? datum.label : ''","title":null}}}},
 {"data":{"values":[{"label":"−0.46"}]},"mark":{"type":"text","fontSize":32,"font":"Liberation Sans","color":"black"},"encoding":{"text":{"field":"label"}}}
]},
{"width":223,"height":64,"data":{"name":"obs"},"layer":[
 {"mark":{"type":"point","shape":"circle","filled":false,"color":"black","strokeWidth":1.5,"size":26,"opacity":1},"encoding":{"x":{"field":"z","type":"quantitative","scale":{"domain":[-0.0364,0.9464],"nice":false,"zero":false},"axis":null},"y":{"field":"g","type":"quantitative","scale":{"domain":[-0.00644,0.16744],"nice":false,"zero":false},"axis":{"orient":"left","values":[0,0.05,0.1,0.15],"format":".2f","labelAngle":270,"labelAlign":"center","labelBaseline":"alphabetic","labelPadding":8,"labelExpr":"indexof(['0.00','0.10'], datum.label) >= 0 ? datum.label : ''","title":null}}}},
 {"transform":[{"loess":"g","on":"z","bandwidth":0.66}],"mark":{"type":"line","color":"#DF536B","strokeWidth":1.2},"encoding":{"x":{"field":"z","type":"quantitative","axis":null},"y":{"field":"g","type":"quantitative","axis":{"orient":"left","values":[0,0.05,0.1,0.15],"format":".2f","labelAngle":270,"labelAlign":"center","labelBaseline":"alphabetic","labelPadding":8,"labelExpr":"indexof(['0.00','0.10'], datum.label) >= 0 ? datum.label : ''","title":null}}}}
]},
{"width":223,"height":64,"layer":[
 {"data":{"name":"obs"},"mark":{"type":"point","opacity":0},"encoding":{"x":{"field":"g","type":"quantitative","axis":null}}},
 {"data":{"values":[{"label":"Grass"}]},"mark":{"type":"text","fontSize":23,"font":"Liberation Sans","color":"black"},"encoding":{"text":{"field":"label"}}}
]},
{"width":223,"height":64,"layer":[
 {"data":{"name":"obs"},"mark":{"type":"point","opacity":0},"encoding":{"x":{"field":"u","type":"quantitative","axis":null}}},
 {"data":{"values":[{"label":"0.14"}]},"mark":{"type":"text","fontSize":12.3,"font":"Liberation Sans","color":"black"},"encoding":{"text":{"field":"label"}}}
]},
{"width":223,"height":64,"layer":[
 {"data":{"name":"obs"},"mark":{"type":"point","opacity":0},"encoding":{"x":{"field":"e","type":"quantitative","axis":null}}},
 {"data":{"values":[{"label":"−0.21"}]},"mark":{"type":"text","fontSize":14.5,"font":"Liberation Sans","color":"black"},"encoding":{"text":{"field":"label"}}}
]},
{"width":223,"height":64,"data":{"name":"obs"},"layer":[
 {"mark":{"type":"point","shape":"circle","filled":false,"color":"black","strokeWidth":1.5,"size":26,"opacity":1},"encoding":{"x":{"field":"z","type":"quantitative","scale":{"domain":[-0.0364,0.9464],"nice":false,"zero":false},"axis":null},"y":{"field":"u","type":"quantitative","scale":{"domain":[-0.0366,0.9516],"nice":false,"zero":false},"axis":null}}},
 {"transform":[{"loess":"u","on":"z","bandwidth":0.66}],"mark":{"type":"line","color":"#DF536B","strokeWidth":1.2},"encoding":{"x":{"field":"z","type":"quantitative","axis":null},"y":{"field":"u","type":"quantitative","axis":null}}}
]},
{"width":223,"height":64,"data":{"name":"obs"},"layer":[
 {"mark":{"type":"point","shape":"circle","filled":false,"color":"black","strokeWidth":1.5,"size":26,"opacity":1},"encoding":{"x":{"field":"g","type":"quantitative","scale":{"domain":[-0.00644,0.16744],"nice":false,"zero":false},"axis":null},"y":{"field":"u","type":"quantitative","scale":{"domain":[-0.0366,0.9516],"nice":false,"zero":false},"axis":null}}},
 {"transform":[{"loess":"u","on":"g","bandwidth":0.66}],"mark":{"type":"line","color":"#DF536B","strokeWidth":1.2},"encoding":{"x":{"field":"g","type":"quantitative","axis":null},"y":{"field":"u","type":"quantitative","axis":null}}}
]},
{"width":223,"height":64,"layer":[
 {"data":{"name":"obs"},"mark":{"type":"point","opacity":0},"encoding":{"x":{"field":"u","type":"quantitative","axis":null}}},
 {"data":{"values":[{"label":"U.lactuca"}]},"mark":{"type":"text","fontSize":23,"font":"Liberation Sans","color":"black"},"encoding":{"text":{"field":"label"}}}
]},
{"width":223,"height":64,"layer":[
 {"data":{"name":"obs"},"mark":{"type":"point","opacity":0},"encoding":{"y":{"field":"u","type":"quantitative","scale":{"domain":[-0.0366,0.9516],"nice":false,"zero":false},"axis":{"orient":"right","values":[0,0.2,0.4,0.6,0.8],"format":".1f","labelAngle":270,"labelAlign":"center","labelBaseline":"alphabetic","labelPadding":18,"labelExpr":"indexof(['0.0','0.6'], datum.label) >= 0 ? datum.label : ''","title":null}}}},
 {"data":{"values":[{"label":"−0.28"}]},"mark":{"type":"text","fontSize":19.6,"font":"Liberation Sans","color":"black"},"encoding":{"text":{"field":"label"}}}
]},
{"width":223,"height":64,"data":{"name":"obs"},"layer":[
 {"mark":{"type":"point","shape":"circle","filled":false,"color":"black","strokeWidth":1.5,"size":26,"opacity":1},"encoding":{"x":{"field":"z","type":"quantitative","scale":{"domain":[-0.0364,0.9464],"nice":false,"zero":false},"axis":{"orient":"bottom","values":[0,0.2,0.4,0.6,0.8],"format":".1f","labelPadding":17,"labelBaseline":"alphabetic","labelAlign":"center","title":null}},"y":{"field":"e","type":"quantitative","scale":{"domain":[-0.0356,0.9256],"nice":false,"zero":false},"axis":{"orient":"left","values":[0,0.2,0.4,0.6,0.8],"format":".1f","labelAngle":270,"labelAlign":"center","labelBaseline":"alphabetic","labelPadding":8,"labelExpr":"indexof(['0.0','0.4','0.8'], datum.label) >= 0 ? datum.label : ''","title":null}}}},
 {"transform":[{"loess":"e","on":"z","bandwidth":0.66}],"mark":{"type":"line","color":"#DF536B","strokeWidth":1.2},"encoding":{"x":{"field":"z","type":"quantitative","axis":{"orient":"bottom","values":[0,0.2,0.4,0.6,0.8],"format":".1f","labelPadding":17,"labelBaseline":"alphabetic","labelAlign":"center","title":null}},"y":{"field":"e","type":"quantitative","axis":{"orient":"left","values":[0,0.2,0.4,0.6,0.8],"format":".1f","labelAngle":270,"labelAlign":"center","labelBaseline":"alphabetic","labelPadding":8,"labelExpr":"indexof(['0.0','0.4','0.8'], datum.label) >= 0 ? datum.label : ''","title":null}}}}
]},
{"width":223,"height":64,"data":{"name":"obs"},"layer":[
 {"mark":{"type":"point","shape":"circle","filled":false,"color":"black","strokeWidth":1.5,"size":26,"opacity":1},"encoding":{"x":{"field":"g","type":"quantitative","scale":{"domain":[-0.00644,0.16744],"nice":false,"zero":false},"axis":null},"y":{"field":"e","type":"quantitative","scale":{"domain":[-0.0356,0.9256],"nice":false,"zero":false},"axis":null}}},
 {"transform":[{"loess":"e","on":"g","bandwidth":0.66}],"mark":{"type":"line","color":"#DF536B","strokeWidth":1.2},"encoding":{"x":{"field":"g","type":"quantitative","axis":null},"y":{"field":"e","type":"quantitative","axis":null}}}
]},
{"width":223,"height":64,"data":{"name":"obs"},"layer":[
 {"mark":{"type":"point","shape":"circle","filled":false,"color":"black","strokeWidth":1.5,"size":26,"opacity":1},"encoding":{"x":{"field":"u","type":"quantitative","scale":{"domain":[-0.0366,0.9516],"nice":false,"zero":false},"axis":{"orient":"bottom","values":[0,0.2,0.4,0.6,0.8],"format":".1f","labelPadding":17,"labelBaseline":"alphabetic","labelAlign":"center","title":null}},"y":{"field":"e","type":"quantitative","scale":{"domain":[-0.0356,0.9256],"nice":false,"zero":false},"axis":null}}},
 {"transform":[{"loess":"e","on":"u","bandwidth":0.66}],"mark":{"type":"line","color":"#DF536B","strokeWidth":1.2},"encoding":{"x":{"field":"u","type":"quantitative","axis":{"orient":"bottom","values":[0,0.2,0.4,0.6,0.8],"format":".1f","labelPadding":17,"labelBaseline":"alphabetic","labelAlign":"center","title":null}},"y":{"field":"e","type":"quantitative","axis":null}}}
]},
{"width":223,"height":64,"layer":[
 {"data":{"name":"obs"},"mark":{"type":"point","opacity":0},"encoding":{"x":{"field":"e","type":"quantitative","axis":null}}},
 {"data":{"values":[{"label":"Enteromorpha"}]},"mark":{"type":"text","fontSize":23,"font":"Liberation Sans","color":"black"},"encoding":{"text":{"field":"label"}}}
]}
]
}
